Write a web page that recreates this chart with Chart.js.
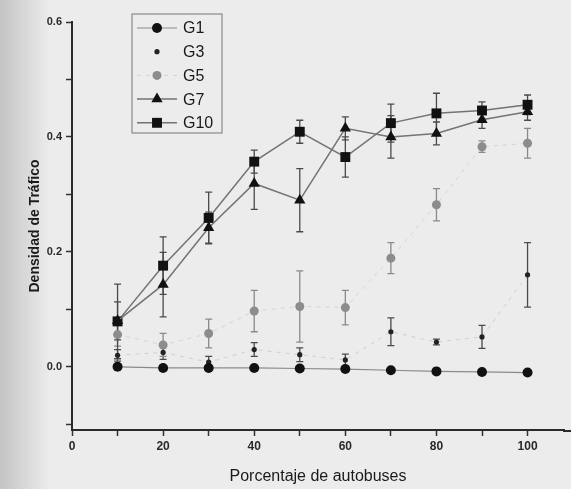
<!DOCTYPE html>
<html>
<head>
<meta charset="utf-8">
<script src="https://cdn.jsdelivr.net/npm/chart.js@4"></script>
<style>
  html, body { margin: 0; padding: 0; background: #ececec; }
  #wrap { width: 571px; height: 489px; position: relative; }
</style>
</head>
<body>
<div id="wrap"><canvas id="c" width="571" height="489"></canvas></div>
<script>
// ---- data ----
const pct = [10, 20, 30, 40, 50, 60, 70, 80, 90, 100];
const seriesNames = ["G1", "G3", "G5", "G7", "G10"];
const g1  = [0.000, -0.002, -0.002, -0.002, -0.003, -0.004, -0.006, -0.008, -0.009, -0.010];
const g3  = [0.020, 0.025, 0.008, 0.030, 0.021, 0.012, 0.061, 0.043, 0.052, 0.160];
const g5  = [0.056, 0.038, 0.058, 0.097, 0.105, 0.103, 0.189, 0.282, 0.383, 0.389];
const g7  = [0.080, 0.143, 0.242, 0.319, 0.290, 0.415, 0.400, 0.406, 0.430, 0.444];
const g10 = [0.079, 0.176, 0.259, 0.357, 0.409, 0.365, 0.424, 0.441, 0.446, 0.456];
const errG1  = [0.004, 0.004, 0.004, 0.004, 0.004, 0.004, 0.004, 0.004, 0.004, 0.004];
const errG3  = [0.010, 0.012, 0.010, 0.012, 0.012, 0.010, 0.024, 0.005, 0.020, 0.056];
const errG5  = [0.020, 0.020, 0.025, 0.036, 0.062, 0.030, 0.027, 0.028, 0.010, 0.026];
const errG7  = [0.033, 0.056, 0.027, 0.045, 0.055, 0.020, 0.037, 0.020, 0.015, 0.015];
const errG10 = [0.065, 0.050, 0.045, 0.020, 0.020, 0.035, 0.033, 0.035, 0.015, 0.017];
const xTicks = [0, 10, 20, 30, 40, 50, 60, 70, 80, 90, 100];
const xLabelled = [0, 20, 40, 60, 80, 100];
const yTicks = [-0.1, 0.0, 0.1, 0.2, 0.3, 0.4, 0.5, 0.6];
const yLabelled = [0.0, 0.2, 0.4, 0.6];
const xTitle = "Porcentaje de autobuses";
const yTitle = "Densidad de Tráfico";

const values = [g1, g3, g5, g7, g10];
const errors = [errG1, errG3, errG5, errG7, errG10];
const styles = [
  { pointStyle: 'circle',   radius: 5,   color: '#111', line: '#8a8a8a', lw: 1.2, dash: [] },
  { pointStyle: 'circle',   radius: 2.6, color: '#222', line: '#d0d0d0', lw: 1,   dash: [4,5] },
  { pointStyle: 'circle',   radius: 4.5, color: '#8c8c8c', line: '#d4d4d4', lw: 1, dash: [4,5] },
  { pointStyle: 'triangle', radius: 6.5, color: '#111', line: '#737373', lw: 1.5, dash: [] },
  { pointStyle: 'rect',     radius: 7,   color: '#111', line: '#737373', lw: 1.5, dash: [] }
];

const datasets = seriesNames.map((name, k) => ({
  label: name,
  data: pct.map((p, i) => ({ x: p, y: values[k][i] })),
  err: errors[k],
  showLine: true,
  borderColor: styles[k].line,
  borderWidth: styles[k].lw,
  borderDash: styles[k].dash,
  pointStyle: styles[k].pointStyle,
  pointRadius: styles[k].radius,
  pointBackgroundColor: styles[k].color,
  pointBorderColor: styles[k].color,
  pointBorderWidth: 0,
  tension: 0
}));

const near = (a, b) => Math.abs(a - b) < 1e-9;

const bgPlugin = {
  id: 'bg',
  beforeDraw(chart) {
    const ctx = chart.ctx;
    const g = ctx.createLinearGradient(0, 0, 50, 0);
    g.addColorStop(0, '#c4c4c4');
    g.addColorStop(1, '#ececec');
    ctx.save();
    ctx.fillStyle = g;
    ctx.fillRect(0, 0, chart.width, chart.height);
    ctx.restore();
  }
};

const errPlugin = {
  id: 'errbars',
  beforeDatasetsDraw(chart) {
    const ctx = chart.ctx;
    const xs = chart.scales.x, ys = chart.scales.y;
    ctx.save();
    chart.data.datasets.forEach((ds, k) => {
      ctx.strokeStyle = k === 2 ? '#8a8a8a' : '#4a4a4a';
      ctx.lineWidth = 1.3;
      ds.data.forEach((pt, i) => {
        const e = ds.err[i];
        const px = xs.getPixelForValue(pt.x);
        const y1 = ys.getPixelForValue(pt.y + e);
        const y2 = ys.getPixelForValue(pt.y - e);
        ctx.beginPath();
        ctx.moveTo(px, y1); ctx.lineTo(px, y2);
        ctx.moveTo(px - 3.5, y1); ctx.lineTo(px + 3.5, y1);
        ctx.moveTo(px - 3.5, y2); ctx.lineTo(px + 3.5, y2);
        ctx.stroke();
      });
    });
    ctx.restore();
  }
};

const axisExtend = {
  id: 'axisExtend',
  afterDraw(chart) {
    // continue the x axis line to the right edge like the scanned figure
    const ctx = chart.ctx;
    const a = chart.chartArea;
    ctx.save();
    ctx.strokeStyle = '#2a2a2a';
    ctx.lineWidth = 2;
    ctx.beginPath();
    ctx.moveTo(a.right - 1, a.bottom + 1);
    ctx.lineTo(chart.width, a.bottom + 1);
    ctx.stroke();
    ctx.restore();
  }
};

const legendPlugin = {
  id: 'boxLegend',
  afterDraw(chart) {
    const ctx = chart.ctx;
    const bx = 132, by = 14, bw = 90, bh = 119;
    ctx.save();
    ctx.strokeStyle = '#8a8a8a';
    ctx.lineWidth = 1.2;
    ctx.strokeRect(bx, by, bw, bh);
    chart.data.datasets.forEach((ds, k) => {
      const cy = 28 + k * 23.7;
      const cx = 157;
      if (k !== 1) {
        ctx.strokeStyle = ds.borderColor;
        ctx.lineWidth = ds.borderWidth;
        ctx.setLineDash(ds.borderDash);
        ctx.beginPath();
        ctx.moveTo(137, cy); ctx.lineTo(177, cy);
        ctx.stroke();
        ctx.setLineDash([]);
      }
      ctx.fillStyle = ds.pointBackgroundColor;
      ctx.strokeStyle = ds.pointBorderColor;
      Chart.helpers.drawPoint(ctx, {
        pointStyle: ds.pointStyle, radius: ds.pointRadius, rotation: 0, borderWidth: 0
      }, cx, cy);
      ctx.fillStyle = '#1a1a1a';
      ctx.font = '16px "Liberation Sans", Arial, sans-serif';
      ctx.textBaseline = 'middle';
      ctx.textAlign = 'left';
      ctx.fillText(ds.label, 183, cy + 1);
    });
    ctx.restore();
  }
};

new Chart(document.getElementById('c'), {
  type: 'scatter',
  data: { datasets },
  plugins: [bgPlugin, errPlugin, axisExtend, legendPlugin],
  options: {
    responsive: false,
    animation: false,
    devicePixelRatio: 1,
    layout: { padding: { top: 22, right: 0, bottom: 0, left: 0 } },
    plugins: { legend: { display: false }, tooltip: { enabled: false } },
    scales: {
      x: {
        type: 'linear',
        min: 0, max: 108,
        afterBuildTicks(scale) { scale.ticks = xTicks.map(v => ({ value: v })); },
        afterFit(scale) { scale.height = 59; },
        border: { color: '#2a2a2a', width: 2 },
        grid: { drawOnChartArea: false, tickLength: 6, tickColor: '#333', tickWidth: 1.5 },
        ticks: {
          padding: 3,
          color: '#2a2a2a',
          font: { family: '"Liberation Sans", Arial, sans-serif', size: 12, weight: 'bold' },
          maxRotation: 0,
          autoSkip: false,
          callback: (v) => xLabelled.some(t => near(t, v)) ? String(v) : ''
        },
        title: {
          display: true, text: xTitle, color: '#1a1a1a',
          font: { family: '"Liberation Sans", Arial, sans-serif', size: 16 },
          padding: { top: 0, bottom: 3 }
        }
      },
      y: {
        type: 'linear',
        min: -0.11, max: 0.6,
        afterBuildTicks(scale) { scale.ticks = yTicks.map(v => ({ value: v })); },
        afterFit(scale) { scale.width = 72; },
        border: { color: '#2a2a2a', width: 2 },
        grid: { drawOnChartArea: false, tickLength: 6, tickColor: '#333', tickWidth: 1.5 },
        ticks: {
          padding: 4,
          color: '#2a2a2a',
          font: { family: '"Liberation Sans", Arial, sans-serif', size: 11, weight: 'bold' },
          autoSkip: false,
          callback: (v) => yLabelled.some(t => near(t, v)) ? v.toFixed(1) : ''
        },
        title: {
          display: true, text: yTitle, color: '#1a1a1a',
          font: { family: '"Liberation Sans", Arial, sans-serif', size: 14, weight: 'bold' },
          padding: { top: 27, bottom: 0 }
        }
      }
    }
  }
});
</script>
</body>
</html>
